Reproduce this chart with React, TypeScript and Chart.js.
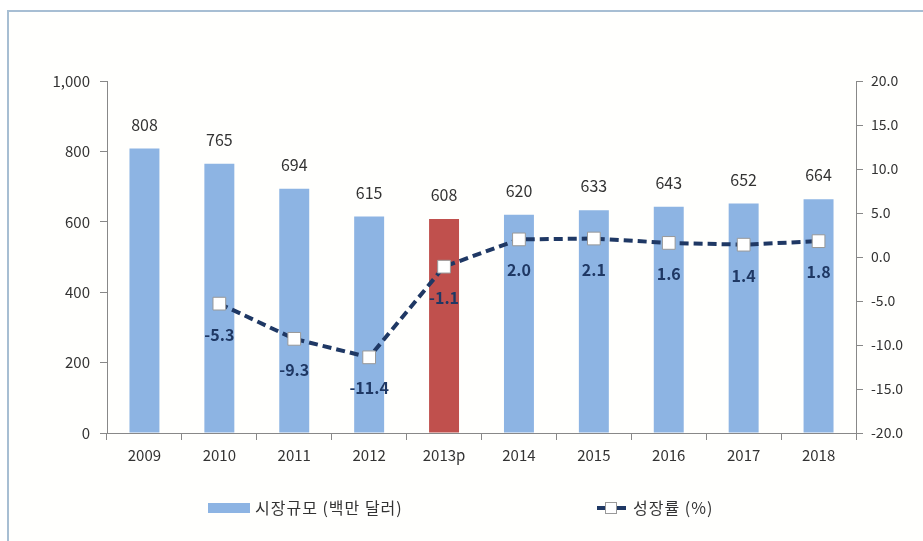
import React, { useEffect, useRef } from "react";
import { Chart, registerables } from "chart.js";

Chart.register(...registerables);

const categories = ["2009", "2010", "2011", "2012", "2013p", "2014", "2015", "2016", "2017", "2018"];
const marketSize = [808, 765, 694, 615, 608, 620, 633, 643, 652, 664];
const growthRate = [null, -5.3, -9.3, -11.4, -1.1, 2.0, 2.1, 1.6, 1.4, 1.8];
const leftTicks = [0, 200, 400, 600, 800, 1000];
const rightTicks = [-20, -15, -10, -5, 0, 5, 10, 15, 20];
const barLabel = "시장규모 (백만 달러)";
const lineLabel = "성장률 (%)";

const BLUE = "#8DB4E3";
const RED = "#C0504D";
const NAVY = "#1F3864";
const FONT = "'Noto Sans CJK KR', 'Noto Sans', sans-serif";

const labelPlugin = {
  id: "labelsAndLegend",
  afterDatasetsDraw(chart: any) {
    const ctx = chart.ctx;
    ctx.save();
    const barMeta = chart.getDatasetMeta(0);
    ctx.font = `16px ${FONT}`;
    ctx.fillStyle = "#333";
    ctx.textAlign = "center";
    ctx.textBaseline = "middle";
    barMeta.data.forEach((el: any, i: number) => {
      ctx.fillText(String(marketSize[i]), el.x, el.y - 24);
    });
    const lineMeta = chart.getDatasetMeta(1);
    ctx.font = `bold 16px ${FONT}`;
    ctx.fillStyle = NAVY;
    lineMeta.data.forEach((el: any, i: number) => {
      const v = growthRate[i];
      if (v === null || v === undefined) return;
      ctx.fillText(v.toFixed(1), el.x, el.y + 31);
    });

    // legend
    const ly = 508;
    ctx.fillStyle = BLUE;
    ctx.fillRect(208, ly - 5, 42, 10);
    ctx.font = `16px ${FONT}`;
    try {
      (ctx as any).letterSpacing = "1px";
    } catch (e) {}
    ctx.fillStyle = "#333";
    ctx.textAlign = "left";
    ctx.fillText(barLabel, 255, ly);

    ctx.strokeStyle = NAVY;
    ctx.lineWidth = 4;
    ctx.beginPath();
    ctx.moveTo(597, ly);
    ctx.lineTo(605, ly);
    ctx.moveTo(617, ly);
    ctx.lineTo(626, ly);
    ctx.stroke();
    ctx.fillStyle = "#fff";
    ctx.strokeStyle = "#999";
    ctx.lineWidth = 1;
    ctx.fillRect(605.5, ly - 5.5, 11, 11);
    ctx.strokeRect(605.5, ly - 5.5, 11, 11);
    ctx.fillStyle = "#333";
    ctx.fillText(lineLabel, 633, ly);
    try {
      (ctx as any).letterSpacing = "0px";
    } catch (e) {}
    ctx.restore();
  },
};

export default function App() {
  const ref = useRef<HTMLCanvasElement | null>(null);
  useEffect(() => {
    if (!ref.current) return;
    const chart = new Chart(ref.current, {
      type: "bar",
      data: {
        labels: categories,
        datasets: [
          {
            type: "bar",
            label: barLabel,
            data: marketSize,
            backgroundColor: marketSize.map((_, i) => (categories[i] === "2013p" ? RED : BLUE)),
            yAxisID: "y",
            barPercentage: 0.4,
            categoryPercentage: 1,
            order: 2,
          },
          {
            type: "line",
            label: lineLabel,
            data: growthRate as any,
            yAxisID: "y1",
            borderColor: NAVY,
            borderWidth: 4,
            borderDash: [9, 5],
            pointStyle: "rect",
            pointRadius: 9,
            pointBackgroundColor: "#fff",
            pointBorderColor: "#999",
            pointBorderWidth: 1,
            spanGaps: false,
            order: 1,
          } as any,
        ],
      },
      options: {
        responsive: false,
        animation: false,
        layout: { padding: { top: 81, left: 0, right: 0, bottom: 0 } },
        plugins: { legend: { display: false }, tooltip: { enabled: false } },
        scales: {
          x: {
            grid: { display: true, drawOnChartArea: false, drawTicks: true, tickLength: 7, color: "#888", offset: true },
            border: { display: true, color: "#888" },
            ticks: { color: "#333", font: { family: FONT, size: 15 }, padding: 6 },
            afterFit: (s: any) => {
              s.height = 108;
            },
          },
          y: {
            position: "left",
            min: 0,
            max: 1000,
            afterBuildTicks: (s: any) => {
              s.ticks = leftTicks.map((v) => ({ value: v }));
            },
            grid: { display: true, drawOnChartArea: false, drawTicks: true, tickLength: 7, color: "#888" },
            border: { display: true, color: "#888" },
            ticks: {
              color: "#333",
              font: { family: FONT, size: 15 },
              padding: 10,
              callback: (v: any) => Number(v).toLocaleString("en-US"),
            },
            afterFit: (s: any) => {
              s.width = 107;
            },
          },
          y1: {
            position: "right",
            min: -20,
            max: 20,
            afterBuildTicks: (s: any) => {
              s.ticks = rightTicks.map((v) => ({ value: v }));
            },
            grid: { display: true, drawOnChartArea: false, drawTicks: true, tickLength: 7, color: "#888" },
            border: { display: true, color: "#888" },
            ticks: {
              color: "#333",
              font: { family: FONT, size: 14 },
              padding: 8,
              callback: (v: any) => Number(v).toFixed(1),
            },
            afterFit: (s: any) => {
              s.width = 67;
            },
          },
        },
      },
      plugins: [labelPlugin],
    });
    return () => chart.destroy();
  }, []);

  return (
    <div style={{ position: "fixed", left: 0, top: 0, width: 923, height: 541, background: "#fff", overflow: "hidden" }}>
      <div
        style={{
          position: "absolute",
          left: 7,
          top: 10,
          width: 940,
          height: 560,
          border: "2px solid #A7BED3",
          background: "#FFFFFD",
        }}
      />
      <canvas ref={ref} width={923} height={541} style={{ position: "absolute", left: 0, top: 0 }} />
    </div>
  );
}
